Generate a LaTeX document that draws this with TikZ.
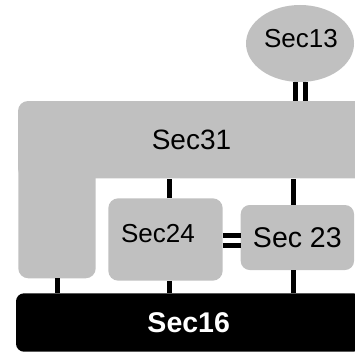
\documentclass[tikz,border=0pt]{standalone}
\usepackage{fontspec}
\setmainfont{Liberation Sans}
\usetikzlibrary{shapes.geometric}
\definecolor{secgray}{RGB}{192,192,192}
\begin{document}
\begin{tikzpicture}[x=1pt,y=-1pt,
  secbox/.style={fill=secgray, rounded corners=10pt, inner sep=0pt},
  seclabel/.style={inner sep=0pt, font=\fontsize{27}{30}\selectfont},
  link/.style={line width=5pt, line cap=butt},
]
\useasboundingbox (0,0) rectangle (355,353);
\clip (0,0) rectangle (355,353);

% Sec31: horizontal bar plus a leg on the left
\node[secbox, seclabel, font=\fontsize{28}{30}\selectfont, minimum width=347pt, minimum height=77.3pt] (s31) at (191.5,139.65) {Sec31};
\fill[secgray, rounded corners=10pt] (18.3,150) rectangle (95.7,278.3);
\coordinate (s31leg) at (57.8,278.3);

% Sec13 ellipse
\node[ellipse, fill=secgray, inner sep=0pt, minimum width=108pt, minimum height=77pt] (s13) at (300,43.5) {};
\node[seclabel, font=\fontsize{26}{30}\selectfont] (s13t) at (301,39) {Sec13};

% Sec24 and Sec 23
\node[secbox, minimum width=114.4pt, minimum height=82.4pt] (s24) at (165.5,239.5) {};
\node[seclabel, font=\fontsize{26}{30}\selectfont] (s24t) at (158,233.3) {Sec24};
\node[secbox, seclabel, font=\fontsize{28.5}{30}\selectfont, rounded corners=9pt, minimum width=113.3pt, minimum height=65pt] (s23) at (297.35,237.5) {Sec 23};

% Sec16 base
\node[fill=black, text=white, rounded corners=8pt, inner sep=0pt,
      font=\fontsize{28.5}{30}\selectfont\bfseries,
      minimum width=345.4pt, minimum height=58.4pt] (s16) at (188.7,322.5) {Sec16};

% double links
\foreach \d in {-4.7,4.7}{
  \draw[link] ([xshift=0.5pt+\d pt]s13.south) -- ([xshift=0.5pt+\d pt]s13.south |- s31.north);
  \draw[link] ([yshift=-0.8pt+\d pt]s24.east) -- ([yshift=-0.8pt+\d pt]s24.east -| s23.west);
}

% single links
\draw[link] (s31leg) -- (s31leg |- s16.north);
\draw[link] ([xshift=4pt]s24.north) -- ([xshift=4pt]s24.north |- s31.south);
\draw[link] ([xshift=4pt]s24.south) -- ([xshift=4pt]s24.south |- s16.north);
\draw[link] ([xshift=-4pt]s23.north) -- ([xshift=-4pt]s23.north |- s31.south);
\draw[link] ([xshift=-4pt]s23.south) -- ([xshift=-4pt]s23.south |- s16.north);
\end{tikzpicture}
\end{document}
